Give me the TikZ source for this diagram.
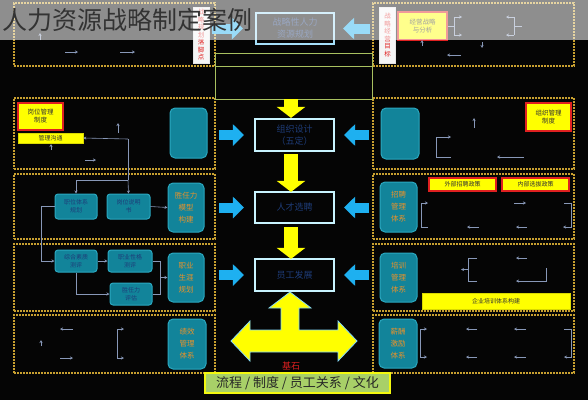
\documentclass[tikz,border=0pt]{standalone}
\usepackage{fontspec}
\setmainfont{Noto Sans CJK SC}
\usetikzlibrary{arrows.meta}
\definecolor{bg}{HTML}{050505}
\definecolor{dashc}{HTML}{C8A030}
\definecolor{tealf}{HTML}{12849A}
\definecolor{teald}{HTML}{2AA8C0}
\definecolor{orangec}{HTML}{E8922A}
\definecolor{blueA}{HTML}{1EB0F0}
\definecolor{cyanb}{HTML}{C8F4FF}
\definecolor{navy}{HTML}{1E3C78}
\definecolor{greenl}{HTML}{A8C060}
\definecolor{yel}{HTML}{FFFF00}
\definecolor{redb}{HTML}{E02020}
\definecolor{linec}{HTML}{8898B8}
\definecolor{barg}{HTML}{A8D068}
\definecolor{titlec}{HTML}{333333}
\tikzset{
  dbox/.style={draw=dashc, line width=1.2pt, dash pattern=on 1.6pt off 1.4pt, inner sep=0pt, outer sep=0pt},
  tealbox/.style={fill=tealf, draw=teald, line width=1pt, rounded corners=5pt, inner sep=0pt},
  smallteal/.style={tealbox, rounded corners=3pt, font=\fontsize{6}{8}\selectfont, text=navy, align=center},
  bigteal/.style={tealbox, font=\fontsize{7.5}{12}\selectfont, text=orangec, align=center},
  cbox/.style={draw=cyanb, line width=2.2pt, fill=bg, text=navy, font=\fontsize{9}{12}\selectfont, align=center, inner sep=0pt},
  yrbox/.style={fill=yel, draw=redb, line width=1.2pt, font=\fontsize{6.5}{8}\selectfont, text=black!80, align=center, inner sep=0pt},
  ybar/.style={fill=yel, draw=yel!85!black, line width=0.6pt, font=\fontsize{6}{7}\selectfont, text=black!80, inner sep=0pt},
  vlab/.style={fill=white!92!gray, draw=white!80!gray, line width=0.5pt, text=redb, font=\fontsize{6.5}{7.5}\selectfont, align=center, inner sep=0pt},
  barrow/.style={draw=blueA, line width=10pt, -{Triangle[length=11pt,width=21pt]}},
  yarrow/.style={draw=yel, line width=14pt, -{Triangle[length=11pt,width=28pt]}},
  sarr/.style={draw=linec, line width=0.6pt, -{Stealth[length=3pt,width=3pt]}},
  sline/.style={draw=linec, line width=0.6pt},
}
\begin{document}
\begin{tikzpicture}[x=1pt,y=-1pt]
\useasboundingbox (0,0) rectangle (588,400);
\fill[bg] (0,0) rectangle (588,400);

% dashed frames
\node[dbox, minimum width=201pt, minimum height=63pt] (L0) at (114.5,34.5) {};
\node[dbox, minimum width=201pt, minimum height=71pt] (L1) at (114.5,133.5) {};
\node[dbox, minimum width=201pt, minimum height=65pt] (L2) at (114.5,206.5) {};
\node[dbox, minimum width=201pt, minimum height=67pt] (L3) at (114.5,277.5) {};
\node[dbox, minimum width=201pt, minimum height=58pt] (L4) at (114.5,344) {};
\node[dbox, minimum width=201pt, minimum height=63pt] (R0) at (473.5,34.5) {};
\node[dbox, minimum width=201pt, minimum height=71pt] (R1) at (473.5,133.5) {};
\node[dbox, minimum width=201pt, minimum height=65pt] (R2) at (473.5,206.5) {};
\node[dbox, minimum width=201pt, minimum height=67pt] (R3) at (473.5,277.5) {};
\node[dbox, minimum width=201pt, minimum height=58pt] (R4) at (473.5,344) {};

% green frame
\draw[greenl, line width=1pt] (215,53) rectangle (372,99);
\draw[greenl, line width=1pt] (215,66) -- (372,66);

% top row
\node[vlab, minimum width=16pt, minimum height=56pt] (vl) at (201,35) {战\\略\\规\\划\\落\\脚\\点};
\node[vlab, minimum width=16pt, minimum height=56pt] (vr) at (387.5,35) {战\\略\\经\\营\\目\\标};
\node[yrbox, minimum width=49pt, minimum height=28pt] (jy) at (422.5,26) {经营战略\\与分析};
\node[cbox, draw=blueA!40!white, minimum width=78pt, minimum height=31pt] (c0) at (295,28.5) {战略性人力\\资源规划};

% row 1
\node[yrbox, minimum width=45pt, minimum height=27pt] (l1y) at (40.5,116.5) {岗位管理\\制度};
\node[ybar, minimum width=65pt, minimum height=10pt] (l1b) at (50.5,138) {管理沟通};
\node[tealbox, minimum width=37pt, minimum height=50pt] (l1t) at (188.5,133) {};
\node[tealbox, minimum width=38pt, minimum height=51pt] (r1t) at (400,133.5) {};
\node[yrbox, minimum width=45pt, minimum height=28pt] (r1y) at (548.5,117) {组织管理\\制度};

% row 2
\node[smallteal, minimum width=42pt, minimum height=25pt] (b21) at (76,206.5) {职位体系\\规划};
\node[smallteal, minimum width=43pt, minimum height=25pt] (b22) at (128.5,206.5) {岗位说明\\书};
\node[bigteal, minimum width=36pt, minimum height=49pt] (l2t) at (186,207.5) {胜任力\\模型\\构建};
\node[bigteal, minimum width=37pt, minimum height=50pt] (r2t) at (398.5,207) {招聘\\管理\\体系};
\node[yrbox, font=\fontsize{6}{7}\selectfont, minimum width=67pt, minimum height=13pt] (r2a) at (462.5,184.5) {外部招聘政策};
\node[yrbox, font=\fontsize{6}{7}\selectfont, minimum width=67pt, minimum height=13pt] (r2b) at (535.5,184.5) {内部选拔政策};

% row 3
\node[smallteal, minimum width=42pt, minimum height=22pt] (b31) at (76,261) {综合素质\\测评};
\node[smallteal, minimum width=44pt, minimum height=22pt] (b32) at (130,261) {职业性格\\测评};
\node[smallteal, minimum width=42pt, minimum height=22pt] (b33) at (131,294) {胜任力\\评估};
\node[bigteal, minimum width=36pt, minimum height=49pt] (l3t) at (186,277.5) {职业\\生涯\\规划};
\node[bigteal, minimum width=37pt, minimum height=49pt] (r3t) at (398.5,277.5) {培训\\管理\\体系};
\node[ybar, minimum width=148pt, minimum height=16pt] (r3b) at (496,301) {企业培训体系构建};

% row 4
\node[bigteal, minimum width=38pt, minimum height=50pt] (l4t) at (187,344) {绩效\\管理\\体系};
\node[bigteal, minimum width=38pt, minimum height=49pt] (r4t) at (398,343.5) {薪酬\\激励\\体系};

% center column
\node[cbox, minimum width=79pt, minimum height=32pt] (c1) at (294.5,135) {组织设计\\（五定）};
\node[cbox, minimum width=79pt, minimum height=31pt] (c2) at (294.5,207.5) {人才选聘};
\node[cbox, minimum width=79pt, minimum height=32pt] (c3) at (294.5,275) {员工发展};

% yellow down arrows
\coordinate (ya) at (291,99);
\draw[yarrow] (ya) -- (c1.north -| ya);
\draw[yarrow] (c1.south -| ya) ++(0,2) -- ([yshift=-1pt]c2.north -| ya);
\draw[yarrow] (c2.south -| ya) ++(0,3) -- ([yshift=-1pt]c3.north -| ya);

% blue arrows
\draw[barrow, shorten <=4pt, shorten >=10pt] (L1.east |- c1.west) -- (c1.west);
\draw[barrow, shorten <=4pt, shorten >=10pt] (L2.east |- c2.west) -- (c2.west);
\draw[barrow, shorten <=4pt, shorten >=10pt] (L3.east |- c3.west) -- (c3.west);
\draw[barrow, shorten <=4pt, shorten >=9pt] (R1.west |- c1.east) -- (c1.east);
\draw[barrow, shorten <=4pt, shorten >=9pt] (R2.west |- c2.east) -- (c2.east);
\draw[barrow, shorten <=4pt, shorten >=9pt] (R3.west |- c3.east) -- (c3.east);
\draw[barrow, shorten <=3pt, shorten >=12pt] (vl.east |- c0.west) -- (c0.west);
\draw[barrow, shorten <=9pt, shorten >=8pt] (vr.west |- c0.east) -- (c0.east);

% big T arrow
\filldraw[fill=yel, draw=cyanb!60!blueA, line width=0.8pt]
  (290,292) -- (311,308) -- (299,308) -- (299,330) -- (338,330) -- (338,321) -- (357,341)
  -- (338,361) -- (338,352) -- (250,352) -- (250,361) -- (231,341) -- (250,321) -- (250,330)
  -- (281,330) -- (281,308) -- (269,308) -- cycle;

% base
\node[text=redb, font=\fontsize{9}{10}\selectfont, inner sep=0pt] (jishi) at (291,366) {基石};
\node[fill=barg, draw=yel!85!barg, line width=1.5pt, minimum width=185pt, minimum height=20pt, inner sep=0pt,
      font=\fontsize{13}{14}\selectfont, text=black!85] (base) at (297.5,383) {流程 / 制度 / 员工关系 / 文化};

% small connectors, left
\draw[sarr] (40,40) -- (40,33);
\draw[sarr] (65,52) -- (78,52);
\draw[sarr] (120,52) -- (135,52);
\draw[sarr] (128,139) -- (l1b.east);
\draw[sline] (128,139) -- (128,180);
\draw[sarr] (128,180) -- (b22.north);
\draw[sarr] (128,180) -- (76,180) -- (b21.north);
\draw[sarr] (118,133) -- (118,123);
\draw[sarr] (51,150) -- (51,144);
\draw[sarr] (85,160) -- (96,160);
\draw[sarr] (b22.east) -- (l2t.west);
\draw[sarr] (b21.west) -- (41,206.5) -- (41,261) -- (b31.west);
\draw[sarr] (b31.east) -- (b32.west);
\draw[sarr] (b31.south) |- (b33.west);
\draw[sline] (b32.east) -| (160,277.5);
\draw[sline] (b33.east) -| (160,277.5);
\draw[sarr] (160,277.5) -- (l3t.west);
\draw[sarr] (73,329) -- (60,329);
\draw[sarr] (41,346) -- (41,340);
\draw[sarr] (60,358) -- (73,358);
\draw[sline] (117,329) -- (117,358);
\draw[sarr] (117,329) -- (124,329);
\draw[sarr] (117,358) -- (124,358);

% small connectors, right
\draw[sline] (jy.east) -- (454,26);
\draw[sline] (454,17) -- (454,35);
\draw[sarr] (454,17) -- (462,17);
\draw[sarr] (454,35) -- (462,35);
\draw[sline] (514,17) -- (514,35);
\draw[sline] (514,26) -- (522,26);
\draw[sarr] (514,17) -- (506,17);
\draw[sarr] (514,35) -- (506,35);
\draw[sarr] (422,46) -- (422,40);
\draw[sarr] (482,42) -- (482,48);
\draw[sarr] (461,55) -- (447,55);
\draw[sarr] (474,128) -- (474,118);
\draw[sarr] (451,157) -- (436,157) -- (436,137) -- (451,137);
\draw[sarr] (524,157) -- (497,157);
\draw[sarr] (428,227) -- (421,227) -- (421,203) -- (428,203);
\draw[sarr] (479,227) -- (467,227);
\draw[sarr] (514,203) -- (526,203);
\draw[sarr] (527,227) -- (516,227);
\draw[sarr] (564,203) -- (571,203) -- (571,227) -- (563,227);
\draw[sline] (477,258) -- (468,258) -- (468,281) -- (477,281);
\draw[sarr] (468,269.5) -- (461,269.5);
\draw[sarr] (527,258) -- (516,258);
\draw[sarr] (546,268) -- (546,281) -- (516,281);
\draw[sline] (420,329) -- (420,357);
\draw[sarr] (420,329) -- (427,329);
\draw[sarr] (420,357) -- (427,357);
\draw[sarr] (477,329) -- (466,329);
\draw[sarr] (477,357) -- (466,357);
\draw[sarr] (526,329) -- (514,329);
\draw[sarr] (526,357) -- (514,357);
\draw[sarr] (564,329) -- (571,329) -- (571,357) -- (564,357);

% grey band and title
\fill[white, opacity=0.55] (0,0) rectangle (588,40);
\node[anchor=west, text=titlec, font=\fontsize{25}{26}\selectfont, inner sep=0pt] (title) at (2,20) {人力资源战略制定案例};
\end{tikzpicture}
\end{document}
